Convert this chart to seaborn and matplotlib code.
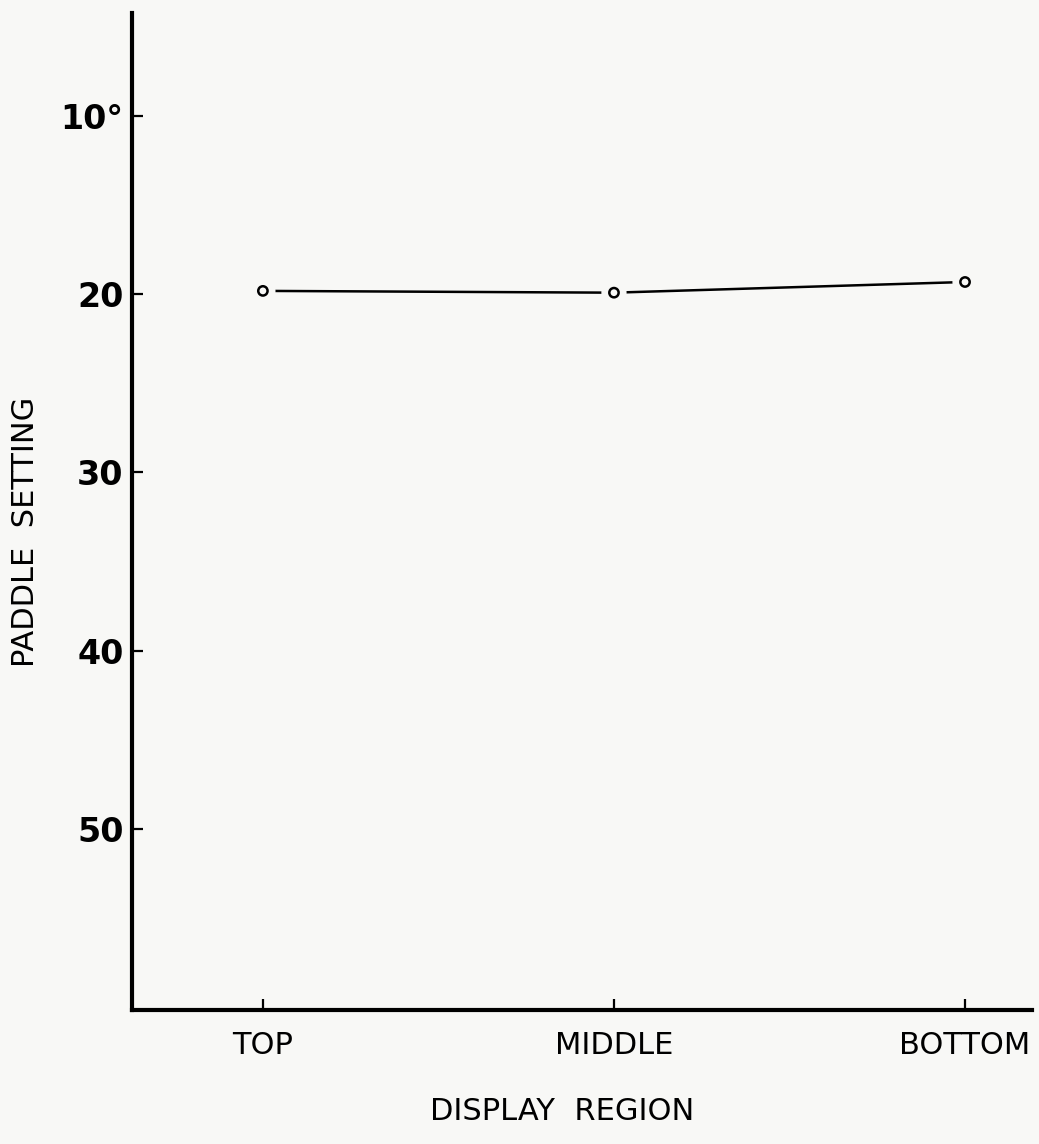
import matplotlib
matplotlib.use('Agg')
import matplotlib.pyplot as plt
import seaborn as sns
import pandas as pd

regions = ['TOP', 'MIDDLE', 'BOTTOM']
paddle = [19.8, 19.9, 19.3]
y_ticks = [10, 20, 30, 40, 50]
y_tick_labels = ['10°', '20', '30', '40', '50']

df = pd.DataFrame({'region': regions, 'paddle': paddle})

sns.set_style('ticks')
plt.rcParams['font.family'] = ['DejaVu Sans']
plt.rcParams['text.color'] = 'black'
plt.rcParams['axes.labelcolor'] = 'black'
plt.rcParams['axes.edgecolor'] = 'black'
plt.rcParams['xtick.color'] = 'black'
plt.rcParams['ytick.color'] = 'black'

fig = plt.figure(figsize=(10.39, 11.44), dpi=100)
fig.patch.set_facecolor('#f8f8f6')
ax = fig.add_axes([0.127, 0.117, 0.866, 0.8715])
ax.set_facecolor('#f8f8f6')

# line first, then a background disc to leave the gap, then the open circle
sns.lineplot(data=df, x='region', y='paddle', sort=False, color='black', linewidth=1.8, ax=ax)
sns.scatterplot(data=df, x='region', y='paddle', s=330, color='#f8f8f6', edgecolor='none', zorder=3, ax=ax)
sns.scatterplot(data=df, x='region', y='paddle', s=45, facecolor='none', edgecolor='black', linewidth=1.8, zorder=4, ax=ax)

ax.set_xlim(-0.373, 2.19)
ax.set_ylim(60.2, 4.2)
ax.set_yticks(y_ticks)
ax.set_yticklabels(y_tick_labels, fontsize=24, fontweight='bold')
ax.tick_params(axis='y', direction='in', length=8, width=1.6, pad=6)
ax.tick_params(axis='x', direction='in', length=8, width=1.6, pad=15, labelsize=22)

sns.despine(ax=ax)
for side in ['left', 'bottom']:
    ax.spines[side].set_linewidth(3)

ax.set_xlabel('DISPLAY  REGION', fontsize=22)
ax.set_ylabel('PADDLE  SETTING', fontsize=22)
ax.xaxis.set_label_coords(0.478, -0.087)
ax.yaxis.set_label_coords(-0.102, 0.48)

fig.savefig('out.png', dpi=100, facecolor=fig.get_facecolor())
